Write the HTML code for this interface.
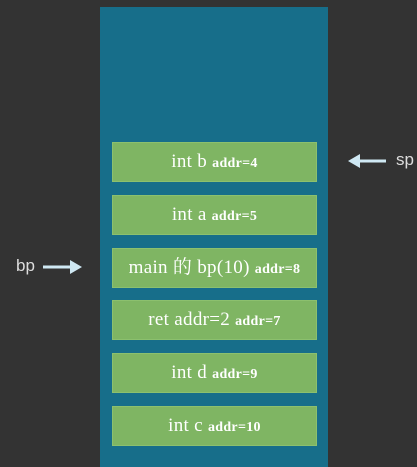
<!DOCTYPE html>
<html><head><meta charset="utf-8"><style>
body{margin:0;width:417px;height:462px;background:#333333;position:relative;overflow:hidden;font-family:"Liberation Serif","Noto Serif CJK SC",serif}
.col{position:absolute;left:100px;top:7px;width:228px;height:460px;background:#176e8a}
.b{position:absolute;left:112px;width:205px;height:40px;background:#7fb563;border:1px solid #8cc06e;box-sizing:border-box;color:#fff;font-size:19px;text-align:center;line-height:38px;white-space:nowrap;letter-spacing:0.3px}
.b small{font-size:14px;font-weight:bold}
.l{position:absolute;color:#ddd;font-family:"Liberation Sans",sans-serif;font-size:17px}
</style></head><body>
<div class="col"></div>
<div class="b" style="top:142px">int b <small>addr=4</small></div>
<div class="b" style="top:195px">int a <small>addr=5</small></div>
<div class="b" style="top:248px">main 的 bp(10) <small>addr=8</small></div>
<div class="b" style="top:300px">ret addr=2 <small>addr=7</small></div>
<div class="b" style="top:353px">int d <small>addr=9</small></div>
<div class="b" style="top:406px">int c <small>addr=10</small></div>
<div class="l" style="left:396px;top:150px">sp</div>
<div class="l" style="left:16px;top:256px">bp</div>
<svg width="417" height="462" style="position:absolute;left:0;top:0">
<line x1="386" y1="161" x2="358" y2="161" stroke="#cfe8f3" stroke-width="3"/>
<polygon points="348,161 360,154 360,168" fill="#cfe8f3"/>
<line x1="43" y1="267" x2="72" y2="267" stroke="#cfe8f3" stroke-width="3"/>
<polygon points="82,267 70,260 70,274" fill="#cfe8f3"/>
</svg>
</body></html>
